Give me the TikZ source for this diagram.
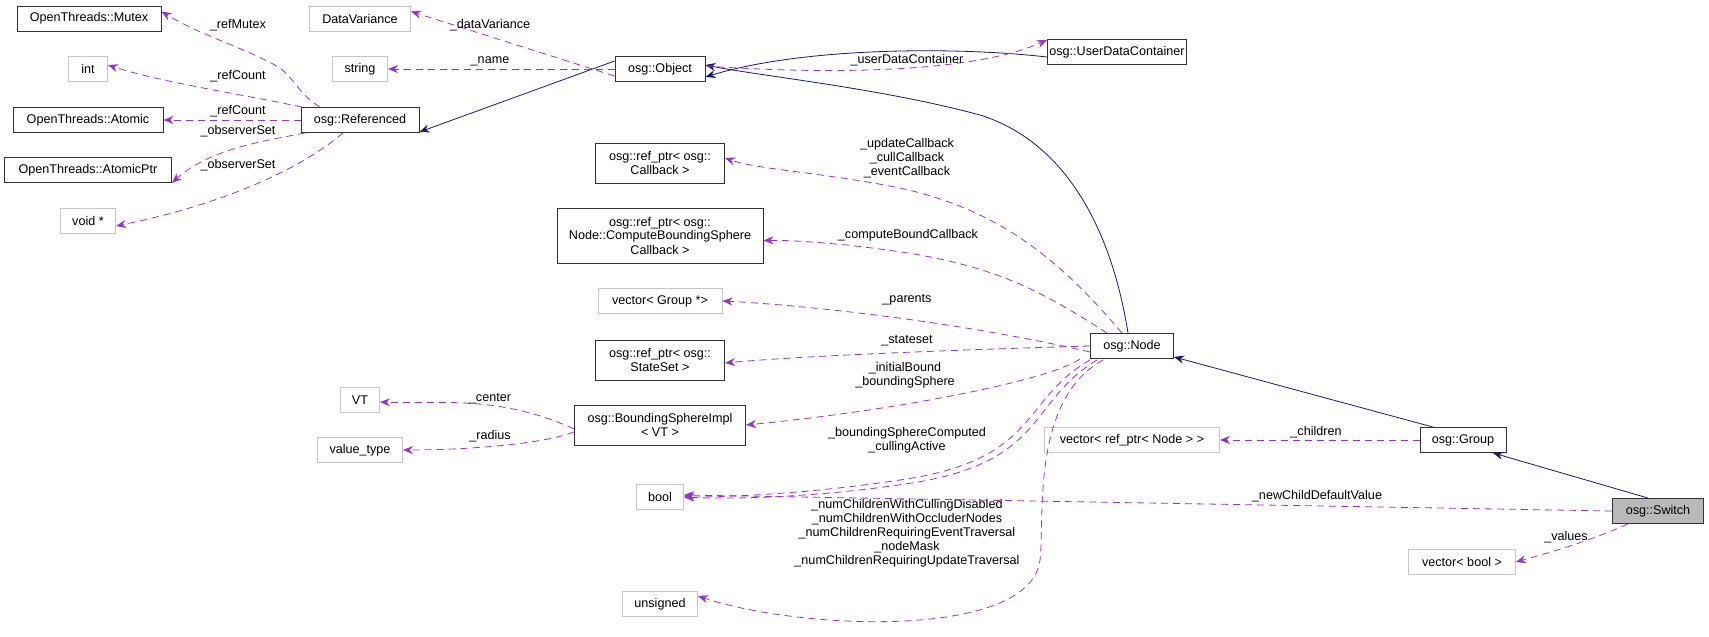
\documentclass[tikz,border=0pt]{standalone}
\usepackage{fontspec}
\setmainfont{Liberation Sans}
\usetikzlibrary{arrows.meta}
\definecolor{inhc}{HTML}{191970}
\definecolor{memc}{HTML}{9A32CD}
\begin{document}
\begin{tikzpicture}[x=1pt,y=-1pt,
  every node/.style={font=\fontsize{12.6}{14}\selectfont},
  box/.style={draw=black!80,fill=white,line width=0.9pt,inner sep=2pt,minimum height=25pt,align=center},
  gbox/.style={draw=gray!45,fill=white,line width=0.9pt,inner sep=2pt,minimum height=25pt,align=center},
  inh/.style={draw=inhc,line width=0.8pt,-{Stealth[length=10pt,width=8pt]}},
  mem/.style={draw=memc,line width=0.8pt,dash pattern=on 7pt off 5pt,-{Stealth[length=10pt,width=8pt]}},
  lab/.style={align=center,inner sep=0pt}]
\useasboundingbox (0,0) rectangle (1709,637);
\node[box,minimum width=144pt] (mutex) at (89,18.5) {OpenThreads::Mutex};
\node[gbox,minimum width=39pt] (int) at (88,69) {int};
\node[box,minimum width=150pt] (atomic) at (88,120) {OpenThreads::Atomic};
\node[box,minimum width=167pt] (aptr) at (88,170) {OpenThreads::AtomicPtr};
\node[gbox,minimum width=55pt] (void) at (88,221) {void *};
\node[box,minimum width=118pt] (ref) at (360,120) {osg::Referenced};
\node[gbox,minimum width=101pt] (dv) at (360,18.5) {DataVariance};
\node[gbox,minimum width=55pt] (str) at (360,69) {string};
\node[box,minimum width=90pt] (obj) at (660,69) {osg::Object};
\node[box,minimum width=133pt] (udc) at (1117,52) {osg::UserDataContainer};
\node[box,minimum width=129pt,minimum height=40pt] (cb) at (660,163) {osg::ref\_ptr< osg::\\Callback >};
\node[box,minimum width=206pt,minimum height=55pt] (cbs) at (660,235.5) {osg::ref\_ptr< osg::\\Node::ComputeBoundingSphere\\Callback >};
\node[gbox,minimum width=124pt] (vg) at (660,301) {vector< Group *>};
\node[box,minimum width=129pt,minimum height=40pt] (ss) at (660,360) {osg::ref\_ptr< osg::\\StateSet >};
\node[box,minimum width=171pt,minimum height=40pt] (bsi) at (660,425) {osg::BoundingSphereImpl\\< VT >};
\node[gbox,minimum width=39pt] (vt) at (360,400) {VT};
\node[gbox,minimum width=85pt] (vty) at (360,450) {value\_type};
\node[gbox,minimum width=47pt] (bool) at (660,497) {bool};
\node[gbox,minimum width=75pt] (uns) at (660,604) {unsigned};
\node[box,minimum width=83pt] (node) at (1132,346) {osg::Node};
\node[gbox,minimum width=175pt] (vrn) at (1132,440) {vector< ref\_ptr< Node > >};
\node[box,minimum width=86pt] (grp) at (1463,440) {osg::Group};
\node[box,fill=gray!55,minimum width=91pt] (sw) at (1658,511) {osg::Switch};
\node[gbox,minimum width=107pt] (vb) at (1462,562) {vector< bool >};
% inheritance
\draw[inh] ([yshift=8pt]obj.west) -- ([yshift=-12pt]ref.east);
\draw[inh] ([yshift=-5pt]udc.west) .. controls (950,46) and (800,48) .. ([yshift=-8pt]obj.east);
\draw[inh] ([xshift=-4pt]node.north) .. controls (1110,220) and (1060,140) .. (980,115) .. controls (880,88) and (760,76) .. ([yshift=4pt]obj.east);
\draw[inh] ([xshift=-30pt]grp.north) -- ([yshift=2pt]node.south east);
\draw[inh] ([xshift=-10pt]sw.north) -- ([xshift=30pt]grp.south);
% members
\draw[mem] ([xshift=-40pt]ref.north) .. controls (300,95) and (295,80) .. (280,68) .. controls (250,50) and (200,35) .. ([yshift=7pt]mutex.east);
\node[lab] at (238,25) {\_refMutex};
\draw[mem] ([xshift=-58pt]ref.north) .. controls (240,94) and (160,82) .. ([yshift=4pt]int.east);
\node[lab] at (238,76) {\_refCount};
\draw[mem] (ref.west) -- (atomic.east);
\node[lab] at (238,111) {\_refCount};
\draw[mem] ([xshift=-55pt]ref.south) .. controls (270,140) and (210,148) .. ([yshift=-13pt]aptr.east);
\node[lab] at (238,131) {\_observerSet};
\draw[mem] ([xshift=-17pt]ref.south) .. controls (300,170) and (220,205) .. ([yshift=-5pt]void.east);
\node[lab] at (238,165) {\_observerSet};
\draw[mem] ([yshift=-7pt]obj.west) -- ([yshift=7pt]dv.east);
\node[lab] at (490,25) {\_dataVariance};
\draw[mem] (obj.west) -- (str.east);
\node[lab] at (490,61) {\_name};
\draw[mem] ([yshift=3pt]obj.east) .. controls (850,76) and (980,70) .. ([yshift=12pt]udc.west);
\node[lab] at (907,60) {\_userDataContainer};
\draw[mem] ([xshift=-10pt]node.north) .. controls (1060,260) and (1000,210) .. (900,188) .. controls (820,172) and (760,170) .. ([yshift=5pt]cb.east);
\node[lab] at (907,158) {\_updateCallback\\\_cullCallback\\\_eventCallback};
\draw[mem] ([xshift=-25pt]node.north) .. controls (1040,290) and (1000,270) .. (920,255) .. controls (860,245) and (800,240) .. ([yshift=-5pt]cbs.east);
\node[lab] at (908,235) {\_computeBoundCallback};
\draw[mem] ([yshift=-6pt]node.west) .. controls (950,320) and (800,305) .. (vg.east);
\node[lab] at (907,300) {\_parents};
\draw[mem] (node.west) .. controls (950,350) and (800,356) .. ([yshift=-3pt]ss.east);
\node[lab] at (907,341) {\_stateset};
\draw[mem] ([xshift=-10pt]node.south west) .. controls (1050,380) and (900,410) .. (bsi.east);
\node[lab] at (905,375) {\_initialBound\\\_boundingSphere};
\draw[mem] ([yshift=-4pt]bsi.west) .. controls (500,395) and (440,404) .. ([yshift=-2pt]vt.east);
\node[lab] at (490,399) {\_center};
\draw[mem] ([yshift=-7pt]bsi.west) .. controls (540,445) and (460,450) .. (vty.east);
\node[lab] at (490,436) {\_radius};
\draw[mem] (1090,360) .. controls (1020,400) and (1040,460) .. (900,480) .. controls (800,495) and (720,497) .. (bool.east);
\draw[mem] (1097,360) .. controls (1027,402) and (1047,464) .. (905,484) .. controls (805,499) and (720,499) .. (bool.east);
\node[lab] at (907,440) {\_boundingSphereComputed\\\_cullingActive};
\draw[mem] (1103,360) .. controls (1030,400) and (1045,520) .. (1040,560) .. controls (1030,640) and (800,630) .. ([yshift=8pt]uns.east);
\node[lab] at (907,533) {\_numChildrenWithCullingDisabled\\\_numChildrenWithOccluderNodes\\\_numChildrenRequiringEventTraversal\\\_nodeMask\\\_numChildrenRequiringUpdateTraversal};
\draw[mem] (grp.west) -- (vrn.east);
\node[lab] at (1316,432) {\_children};
\draw[mem] (sw.west) -- ([yshift=2pt]bool.east);
\node[lab] at (1317,496) {\_newChildDefaultValue};
\draw[mem] ([xshift=-30pt]sw.south) .. controls (1580,545) and (1540,555) .. (vb.east);
\node[lab] at (1566,537) {\_values};
\end{tikzpicture}
\end{document}
